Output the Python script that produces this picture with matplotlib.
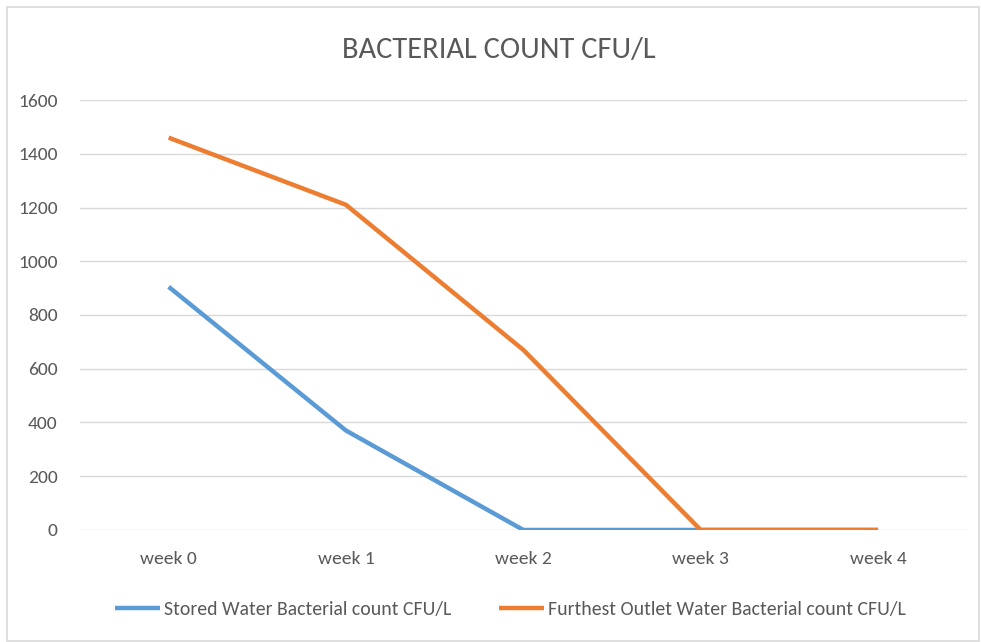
import matplotlib.pyplot as plt
from matplotlib import font_manager
from matplotlib.patches import Rectangle

weeks = ['week 0', 'week 1', 'week 2', 'week 3', 'week 4']
stored = [905, 370, 0, 0, 0]
furthest = [1460, 1210, 670, 0, 0]
yticks = [0, 200, 400, 600, 800, 1000, 1200, 1400, 1600]

# Calibri-like face if there is one
have = {f.name for f in font_manager.fontManager.ttflist}
face = next((n for n in ['Carlito', 'Liberation Sans Narrow', 'Roboto Condensed', 'Open Sans']
             if n in have), 'DejaVu Sans')
plt.rcParams['font.family'] = [face, 'DejaVu Sans']
grey = '#595959'

fig = plt.figure(figsize=(9.81, 6.42), dpi=100)
ax = fig.add_axes([0.0815, 0.1745, 0.904, 0.6697])

x = range(len(weeks))
ax.plot(x, stored, color='#5B9BD5', linewidth=3.2, solid_capstyle='butt',
        label='Stored Water Bacterial count CFU/L', zorder=3)
ax.plot(x, furthest, color='#ED7D31', linewidth=3.2, solid_capstyle='butt',
        label='Furthest Outlet Water Bacterial count CFU/L', zorder=4)

ax.set_xlim(-0.5, 4.5)
ax.set_ylim(0, 1600)
ax.set_xticks(list(x))
ax.set_xticklabels(weeks)
ax.set_yticks(yticks)
ax.grid(axis='y', color='#D9D9D9', linewidth=1)
ax.set_axisbelow(True)
for s in ax.spines.values():
    s.set_visible(False)
ax.tick_params(axis='both', length=0, labelsize=14, colors=grey)
ax.tick_params(axis='y', pad=16)
ax.tick_params(axis='x', pad=15)

fig.text(0.508, 0.922, 'BACTERIAL COUNT CFU/L', ha='center', va='center',
         fontsize=22, color=grey)

fig.legend(loc='center', bbox_to_anchor=(0.52, 0.050), ncol=2,
           frameon=False, fontsize=14.2, labelcolor=grey, handlelength=2.3,
           handletextpad=0.2, columnspacing=2.4)

# thin grey frame round the chart area
fig.patches.append(Rectangle((7 / 981, 0.002), 972 / 981, 1 - 7 / 642 - 0.002,
                             transform=fig.transFigure, fill=False,
                             edgecolor='#D9D9D9', linewidth=1.2))

fig.savefig('out.png', dpi=100)
